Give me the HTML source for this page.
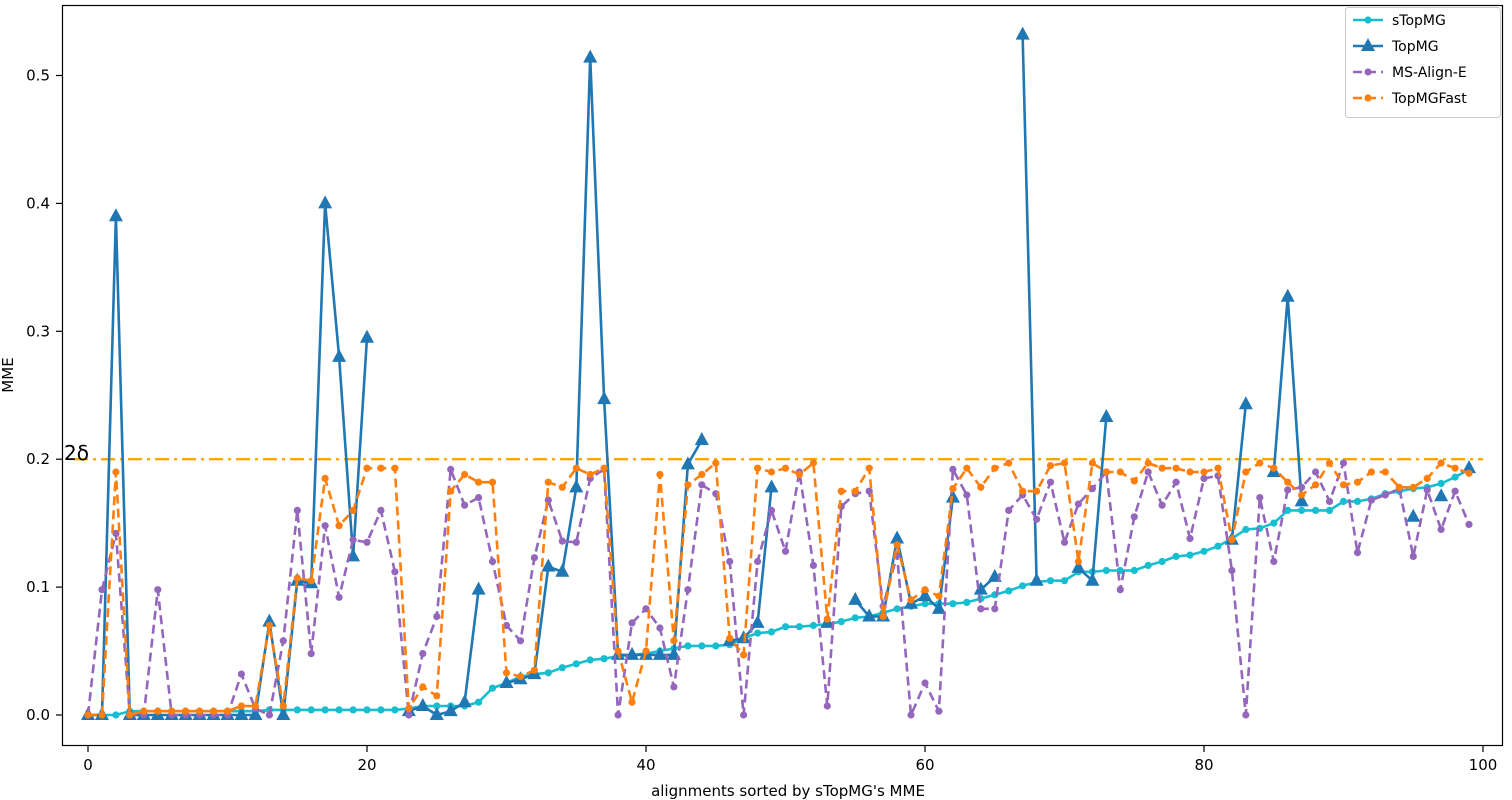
<!DOCTYPE html>
<html><head><meta charset="utf-8"><style>
html,body{margin:0;padding:0;background:#fff;}
svg{display:block;font-family:"DejaVu Sans","Liberation Sans",sans-serif;}
</style></head><body>
<svg id="s" width="1512" height="800" xmlns="http://www.w3.org/2000/svg"></svg>
<script>
(function(){
const N=null;
const cyan=[0,0,0,0.003,0.003,0.003,0.003,0.003,0.003,0.003,0.003,0.003,0.003,0.004,0.004,0.004,0.004,0.004,0.004,0.004,0.004,0.004,0.004,0.005,0.007,0.007,0.007,0.007,0.01,0.021,0.025,0.03,0.032,0.033,0.037,0.04,0.043,0.044,0.046,0.047,0.048,0.05,0.052,0.054,0.054,0.054,0.055,0.06,0.064,0.065,0.069,0.069,0.07,0.071,0.073,0.076,0.077,0.08,0.083,0.085,0.087,0.087,0.087,0.088,0.091,0.094,0.097,0.101,0.104,0.105,0.105,0.112,0.112,0.113,0.113,0.113,0.117,0.12,0.124,0.125,0.128,0.132,0.138,0.145,0.146,0.15,0.16,0.16,0.16,0.16,0.167,0.167,0.169,0.173,0.175,0.177,0.178,0.181,0.186,0.192];
const topmg=[0,0,0.39,0,0,0,0,0,0,0,0,0,0,0.073,0,0.105,0.103,0.40,0.28,0.124,0.295,N,N,0.003,0.007,0,0.003,0.01,0.098,N,0.025,0.028,0.032,0.116,0.112,0.178,0.514,0.247,0.047,0.047,0.047,0.047,0.047,0.196,0.215,N,0.058,0.06,0.072,0.178,N,N,N,0.072,N,0.09,0.077,0.077,0.138,0.087,0.093,0.083,0.17,N,0.098,0.108,N,0.532,0.105,N,N,0.115,0.105,0.233,N,N,N,N,N,N,N,N,0.137,0.243,N,0.19,0.327,0.167,N,N,N,N,N,N,N,0.155,N,0.171,N,0.193];
const pur=[0,0.098,0.142,0,0,0.098,0,0,0,0,0,0.032,0.005,0,0.058,0.16,0.048,0.148,0.092,0.137,0.135,0.16,0.112,0,0.048,0.077,0.192,0.164,0.17,0.12,0.07,0.058,0.123,0.168,0.136,0.135,0.185,0.192,0,0.072,0.083,0.068,0.022,0.098,0.18,0.173,0.12,0,0.12,0.16,0.128,0.19,0.117,0.007,0.163,0.173,0.175,0.085,0.125,0,0.025,0.003,0.192,0.172,0.083,0.083,0.16,0.172,0.153,0.182,0.135,0.165,0.177,0.19,0.098,0.155,0.19,0.164,0.182,0.138,0.185,0.187,0.113,0,0.17,0.12,0.176,0.178,0.19,0.167,0.197,0.127,0.168,0.172,0.177,0.124,0.176,0.145,0.175,0.149];
const ora=[0,0,0.19,0,0.003,0.003,0.003,0.003,0.003,0.003,0.003,0.007,0.007,0.07,0.007,0.107,0.105,0.185,0.148,0.16,0.193,0.193,0.193,0.005,0.022,0.015,0.175,0.188,0.182,0.182,0.033,0.03,0.035,0.182,0.178,0.193,0.188,0.193,0.05,0.01,0.05,0.188,0.058,0.18,0.188,0.197,0.06,0.047,0.193,0.19,0.193,0.188,0.197,0.075,0.175,0.175,0.193,0.077,0.133,0.09,0.098,0.093,0.177,0.193,0.178,0.193,0.197,0.175,0.175,0.195,0.197,0.12,0.197,0.19,0.19,0.183,0.197,0.193,0.193,0.19,0.19,0.193,0.137,0.19,0.197,0.193,0.182,0.172,0.18,0.197,0.18,0.182,0.19,0.19,0.178,0.178,0.185,0.197,0.193,0.189];
const X=i=>88+13.95*i, Y=v=>715-1279*v;
let h='';
h+='<rect x="62.5" y="5.5" width="1440" height="740" fill="none" stroke="#000" stroke-width="1.2"/>';
for(let k=0;k<=5;k++){const y=Y(k/10);h+=`<line x1="56" x2="62" y1="${y}" y2="${y}" stroke="#000" stroke-width="1.2"/><text x="50" y="${y+5}" font-size="15" text-anchor="end">${(k/10).toFixed(1)}</text>`;}
for(let k=0;k<=100;k+=20){const x=X(k);h+=`<line x1="${x}" x2="${x}" y1="746" y2="752" stroke="#000" stroke-width="1.2"/><text x="${x}" y="770" font-size="15" text-anchor="middle">${k}</text>`;}
h+='<text x="788" y="796" font-size="15" text-anchor="middle">alignments sorted by sTopMG\'s MME</text>';
h+='<text transform="translate(13,375) rotate(-90)" font-size="15" text-anchor="middle">MME</text>';
h+=`<line x1="${X(-1)}" x2="${X(100)}" y1="${Y(0.2)}" y2="${Y(0.2)}" stroke="#ffa500" stroke-width="2.4" stroke-dasharray="14,5,3,5"/>`;
h+=`<text x="64" y="${Y(0.2)+1}" font-size="20">2δ</text>`;
function path(d,c,dash,w){let s='',pen=false;d.forEach((v,i)=>{if(v===null){pen=false;return;}s+=(pen?'L':'M')+X(i).toFixed(1)+','+Y(v).toFixed(1);pen=true;});return `<path d="${s}" fill="none" stroke="${c}" stroke-width="${w}" ${dash?'stroke-dasharray="'+dash+'"':''} stroke-linejoin="round"/>`;}
function dots(d,c,r){let s='';d.forEach((v,i)=>{if(v!==null)s+=`<circle cx="${X(i).toFixed(1)}" cy="${Y(v).toFixed(1)}" r="${r}" fill="${c}"/>`;});return s;}
function tris(d,c){let s='';d.forEach((v,i)=>{if(v!==null){const x=X(i),y=Y(v);s+=`<path d="M${x},${y-8}L${x+7},${y+5}L${x-7},${y+5}Z" fill="${c}"/>`;}});return s;}
h+=path(cyan,'#17becf','',2.6)+dots(cyan,'#17becf',3.6);
h+=path(topmg,'#1f77b4','',2.6)+tris(topmg,'#1f77b4');
h+=path(pur,'#9467bd','9,5',2.6)+dots(pur,'#9467bd',3.6);
h+=path(ora,'#ff7f0e','9,5',2.6)+dots(ora,'#ff7f0e',3.6);
h+='<rect x="1345.5" y="7.5" width="155" height="110" rx="3" fill="#fff" fill-opacity="0.8" stroke="#ccc"/>';
const L=[['sTopMG','#17becf','','c'],['TopMG','#1f77b4','','t'],['MS-Align-E','#9467bd','9,5','c'],['TopMGFast','#ff7f0e','9,5','c']];
L.forEach((e,k)=>{const y=20+k*26;h+=`<line x1="1353" x2="1383" y1="${y}" y2="${y}" stroke="${e[1]}" stroke-width="2.6" ${e[2]?'stroke-dasharray="'+e[2]+'"':''}/>`;
h+=e[3]=='t'?`<path d="M1368,${y-8}L1375,${y+5}L1361,${y+5}Z" fill="${e[1]}"/>`:`<circle cx="1368" cy="${y}" r="3.6" fill="${e[1]}"/>`;
h+=`<text x="1392" y="${y+5}" font-size="14">${e[0]}</text>`;});
document.getElementById('s').innerHTML=h;
})();
</script>
</body></html>
